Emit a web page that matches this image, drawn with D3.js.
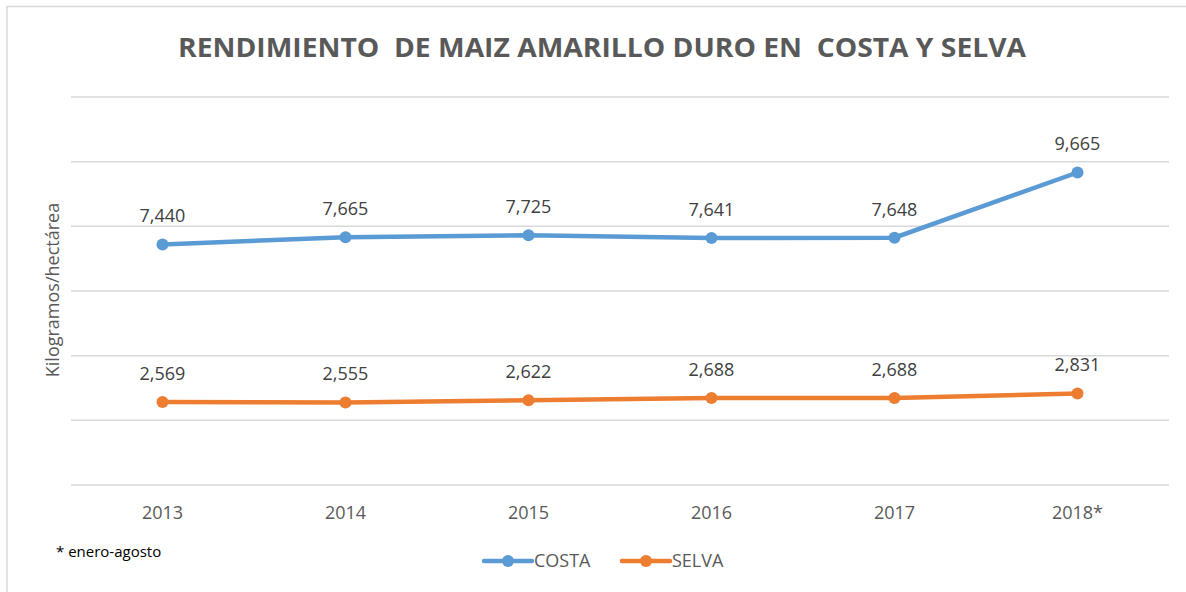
<!DOCTYPE html>
<html>
<head>
<meta charset="utf-8">
<script src="https://cdn.jsdelivr.net/npm/d3@7"></script>
<style>
  body { margin: 0; background: #fff; }
  text { font-family: "Open Sans", "Noto Sans", sans-serif; }
</style>
</head>
<body>
<svg id="chart" width="1186" height="592"></svg>
<script>
// data
var years = ['2013', '2014', '2015', '2016', '2017', '2018*'];
var costa = [7440, 7665, 7725, 7641, 7648, 9665];
var selva = [2569, 2555, 2622, 2688, 2688, 2831];
var yTicks = [0, 2000, 4000, 6000, 8000, 10000, 12000];

var svg = d3.select('#chart');
var W = 1186, H = 592;
var margin = { left: 71, right: 17, top: 97, bottom: 107 };

// chart frame
svg.append('rect')
  .attr('x', 7).attr('y', 6.5)
  .attr('width', W + 10).attr('height', H - 4)
  .attr('fill', '#fff')
  .attr('stroke', '#d9d9d9').attr('stroke-width', 1.5);

var x = d3.scaleBand()
  .domain(years)
  .range([margin.left, W - margin.right]);

var y = d3.scaleLinear()
  .domain([0, 12000])
  .range([H - margin.bottom, margin.top]);

// gridlines
svg.append('g')
  .selectAll('line')
  .data(yTicks)
  .join('line')
  .attr('x1', margin.left).attr('x2', W - margin.right)
  .attr('y1', d => y(d)).attr('y2', d => y(d))
  .attr('stroke', '#d9d9d9').attr('stroke-width', 1.5);

// x axis labels
var xAxis = svg.append('g')
  .attr('transform', 'translate(0,' + (H - margin.bottom) + ')')
  .call(d3.axisBottom(x).tickSize(0).tickPadding(21));
xAxis.select('.domain').remove();
xAxis.selectAll('text')
  .attr('fill', '#595959')
  .style('font-size', '18px')
  .style('font-family', '"Open Sans", sans-serif');

// title (double spaces kept as in the original)
svg.append('text')
  .attr('x', 602).attr('y', 57)
  .attr('text-anchor', 'middle')
  .attr('fill', '#595959')
  .attr('font-weight', 'bold')
  .attr('font-size', 26)
  .attr('textLength', 848)
  .attr('lengthAdjust', 'spacingAndGlyphs')
  .style('white-space', 'pre')
  .text('RENDIMIENTO  DE MAIZ AMARILLO DURO EN  COSTA Y SELVA');

// y label
svg.append('text')
  .attr('transform', 'translate(59,290) rotate(-90)')
  .attr('text-anchor', 'middle')
  .attr('fill', '#595959')
  .attr('font-size', 18)
  .text('Kilogramos/hectárea');

// footnote
svg.append('text')
  .attr('x', 56).attr('y', 557)
  .attr('fill', '#000')
  .attr('font-size', 15)
  .text('* enero-agosto');

var cx = d => x(d) + x.bandwidth() / 2;
var lineGen = d3.line()
  .x(d => cx(d.year))
  .y(d => y(d.value));

var series = [
  { name: 'COSTA', color: '#5b9bd5', values: costa },
  { name: 'SELVA', color: '#ed7d31', values: selva }
];

series.forEach(function(s) {
  var pts = years.map((yr, i) => ({ year: yr, value: s.values[i] }));
  var g = svg.append('g');
  g.append('path')
    .datum(pts)
    .attr('d', lineGen)
    .attr('fill', 'none')
    .attr('stroke', s.color)
    .attr('stroke-width', 4.5)
    .attr('stroke-linecap', 'round');
  g.selectAll('circle')
    .data(pts)
    .join('circle')
    .attr('cx', d => cx(d.year))
    .attr('cy', d => y(d.value))
    .attr('r', 6)
    .attr('fill', s.color);
  g.selectAll('text')
    .data(pts)
    .join('text')
    .attr('x', d => cx(d.year))
    .attr('y', d => y(d.value) - 22)
    .attr('text-anchor', 'middle')
    .attr('fill', '#404040')
    .attr('font-size', 18)
    .text(d => d3.format(',')(d.value));
});

// legend
var legendX = [482, 620];
series.forEach(function(s, i) {
  var lg = svg.append('g').attr('transform', 'translate(' + legendX[i] + ',561)');
  lg.append('line')
    .attr('x1', 2).attr('x2', 50)
    .attr('stroke', s.color).attr('stroke-width', 4.5)
    .attr('stroke-linecap', 'round');
  lg.append('circle').attr('cx', 26).attr('r', 6).attr('fill', s.color);
  lg.append('text')
    .attr('x', 52).attr('y', 6)
    .attr('fill', '#595959')
    .attr('font-size', 18)
    .text(s.name);
});
</script>
</body>
</html>
